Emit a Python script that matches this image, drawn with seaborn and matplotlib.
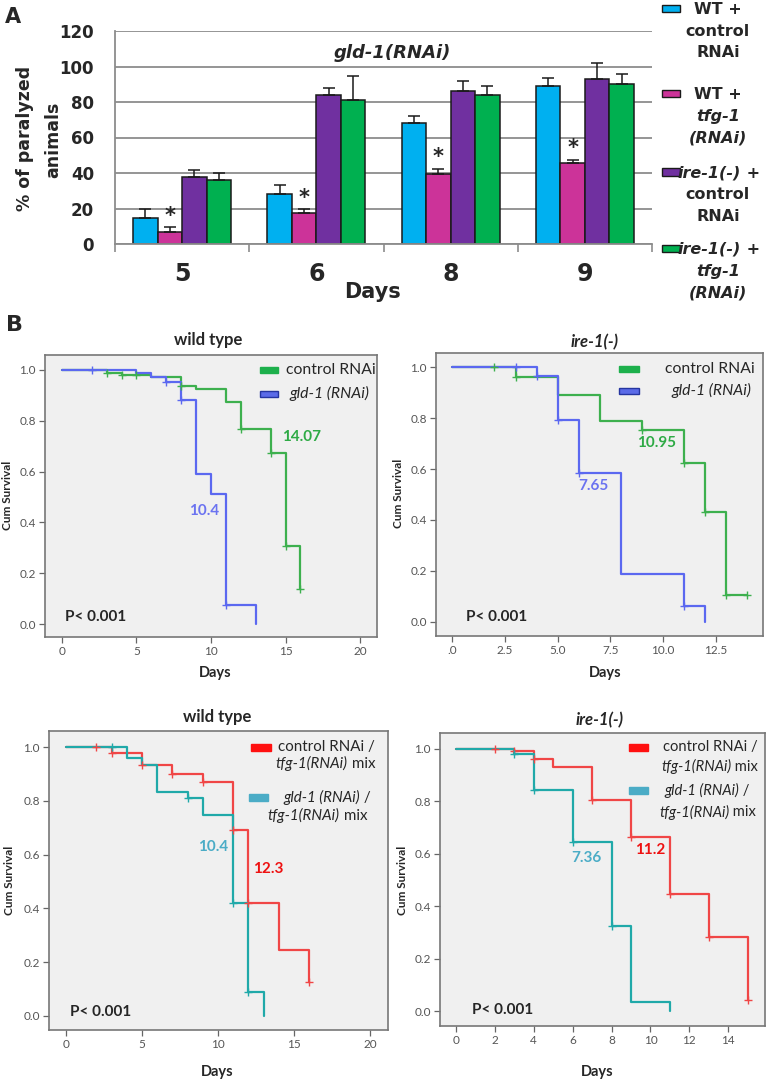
import numpy as np
import pandas as pd
import matplotlib
matplotlib.use("Agg")
import matplotlib.pyplot as plt
import seaborn as sns
from matplotlib.patches import Rectangle

W, H = 769, 1081

# ---- panel A: % paralyzed animals, gld-1(RNAi)
days = ["5", "6", "8", "9"]
groups = ["WT + control RNAi", "WT + tfg-1 (RNAi)",
          "ire-1(-) + control RNAi", "ire-1(-) + tfg-1 (RNAi)"]
wt_ctrl = [14.6, 28.2, 68.3, 89.2]
wt_ctrl_err = [4.9, 5.0, 4.0, 4.3]
wt_tfg = [6.6, 17.3, 39.4, 45.4]
wt_tfg_err = [2.8, 2.2, 2.9, 1.9]
ire_ctrl = [37.9, 83.9, 86.3, 93.2]
ire_ctrl_err = [3.8, 3.8, 5.7, 8.5]
ire_tfg = [36.0, 81.3, 83.9, 90.2]
ire_tfg_err = [4.0, 13.5, 5.3, 5.6]
bar_colors = ["#00B0F0", "#CC3399", "#7030A0", "#00B050"]

# ---- panel B: Kaplan-Meier curves (time, survival after step), censor marks
wt_ctrl_t = [0, 3, 4, 6, 8, 9, 11, 12, 14, 15, 16]
wt_ctrl_s = [1.0, 0.99, 0.98, 0.971, 0.936, 0.924, 0.875, 0.769, 0.673, 0.307, 0.136]
wt_ctrl_ct = [3, 4, 5, 8, 12, 14, 15, 16]
wt_ctrl_cs = [0.99, 0.98, 0.98, 0.936, 0.769, 0.673, 0.307, 0.136]
wt_gld_t = [0, 5, 6, 7, 8, 9, 10, 11, 13]
wt_gld_s = [1.0, 0.99, 0.971, 0.953, 0.881, 0.592, 0.511, 0.075, 0.0]
wt_gld_ct = [2, 7, 8, 11]
wt_gld_cs = [1.0, 0.953, 0.881, 0.075]

ire_ctrl_t = [0, 3, 5, 7, 9, 11, 12, 13, 14]
ire_ctrl_s = [1.0, 0.961, 0.890, 0.787, 0.753, 0.625, 0.432, 0.105, 0.105]
ire_ctrl_ct = [2, 3, 9, 11, 12, 13, 14]
ire_ctrl_cs = [1.0, 0.961, 0.753, 0.625, 0.432, 0.105, 0.105]
ire_gld_t = [0, 4, 5, 6, 8, 11, 12]
ire_gld_s = [1.0, 0.967, 0.792, 0.586, 0.186, 0.062, 0.0]
ire_gld_ct = [3, 4, 5, 6, 11]
ire_gld_cs = [1.0, 0.967, 0.792, 0.586, 0.062]

wt_mix_ctrl_t = [0, 3, 5, 7, 9, 11, 12, 14, 16]
wt_mix_ctrl_s = [1.0, 0.979, 0.935, 0.901, 0.870, 0.693, 0.418, 0.244, 0.124]
wt_mix_ctrl_ct = [2, 3, 5, 7, 9, 11, 12, 16]
wt_mix_ctrl_cs = [1.0, 0.979, 0.935, 0.901, 0.870, 0.693, 0.418, 0.124]
wt_mix_gld_t = [0, 4, 5, 6, 8, 9, 11, 12, 13]
wt_mix_gld_s = [1.0, 0.958, 0.935, 0.833, 0.811, 0.748, 0.42, 0.089, 0.0]
wt_mix_gld_ct = [3, 8, 11, 12]
wt_mix_gld_cs = [1.0, 0.811, 0.42, 0.089]

ire_mix_ctrl_t = [0, 3, 4, 5, 7, 9, 11, 13, 15]
ire_mix_ctrl_s = [1.0, 0.991, 0.962, 0.929, 0.805, 0.665, 0.446, 0.283, 0.042]
ire_mix_ctrl_ct = [2, 3, 4, 7, 9, 11, 13, 15]
ire_mix_ctrl_cs = [1.0, 0.991, 0.962, 0.805, 0.665, 0.446, 0.283, 0.042]
ire_mix_gld_t = [0, 3, 4, 6, 8, 9, 11]
ire_mix_gld_s = [1.0, 0.981, 0.844, 0.644, 0.324, 0.036, 0.0]
ire_mix_gld_ct = [3, 4, 6, 8]
ire_mix_gld_cs = [0.981, 0.844, 0.644, 0.324]

GREEN, BLUE, RED, TEAL = "#3DB04E", "#5B68F0", "#F04646", "#20A9A9"

sns.set_style("ticks")
plt.rcParams["font.family"] = ["Lato", "DejaVu Sans"]

fig = plt.figure(figsize=(W / 100, H / 100), dpi=100)


def px_axes(l, t, r, b):
    return fig.add_axes([l / W, 1 - b / H, (r - l) / W, (b - t) / H])


def fig_text(x, y, s, **kw):
    return fig.text(x / W, 1 - y / H, s, **kw)


# ================= Panel A =================
AF = "DejaVu Sans"
ax = px_axes(115, 31, 652, 244)
df_a = pd.DataFrame({
    "day": days * 4,
    "group": np.repeat(groups, len(days)),
    "pct": wt_ctrl + wt_tfg + ire_ctrl + ire_tfg,
})
sns.barplot(data=df_a, x="day", y="pct", hue="group", order=days, hue_order=groups,
            palette=bar_colors, saturation=1, width=0.73, edgecolor="#1a1a1a",
            linewidth=1.1, errorbar=None, legend=False, ax=ax, zorder=2)

errs = [wt_ctrl_err, wt_tfg_err, ire_ctrl_err, ire_tfg_err]
for cont, err in zip(ax.containers, errs):
    for bar, e in zip(cont, err):
        cx = bar.get_x() + bar.get_width() / 2
        ax.errorbar(cx, bar.get_height(), yerr=[[0], [e]], fmt="none", ecolor="#1a1a1a",
                    elinewidth=1.1, capsize=4, capthick=1.1, zorder=3)
for bar, e in zip(ax.containers[1], wt_tfg_err):
    cx = bar.get_x() + bar.get_width() / 2
    ax.text(cx, bar.get_height() + e + 1.0, "*", ha="center", va="bottom",
            fontsize=15, fontweight="bold", family=AF)

ax.set_ylim(0, 120)
ax.set_xlim(-0.5, len(days) - 0.5)
ax.set_yticks(range(0, 121, 20))
ax.yaxis.grid(True, color="#8c8c8c", lw=1.3)
ax.set_axisbelow(True)
for sp in ["top", "right"]:
    ax.spines[sp].set_visible(False)
for sp in ["left", "bottom"]:
    ax.spines[sp].set_color("#8c8c8c")
    ax.spines[sp].set_linewidth(1.3)
ax.set_xticks(np.arange(len(days) + 1) - 0.5, minor=True)
ax.tick_params(axis="x", which="major", length=0, pad=13)
ax.tick_params(axis="x", which="minor", length=6, width=1.2, color="#8c8c8c")
ax.tick_params(axis="y", length=0, pad=15)
for lab in ax.get_xticklabels():
    lab.set_fontsize(17)
    lab.set_fontweight("bold")
    lab.set_family(AF)
for lab in ax.get_yticklabels():
    lab.set_fontsize(12)
    lab.set_fontweight("bold")
    lab.set_family(AF)
ax.set_xlabel("")
ax.set_ylabel("")

fig_text(392, 53, "gld-1(RNAi)", ha="center", va="center", fontsize=13,
         fontweight="bold", style="italic", family=AF)
fig_text(372, 292, "Days", ha="center", va="center", fontsize=15, fontweight="bold", family=AF)
fig_text(25, 138, "% of paralyzed", ha="center", va="center", rotation=90,
         fontsize=12.5, fontweight="bold", family=AF)
fig_text(53, 140, "animals", ha="center", va="center", rotation=90,
         fontsize=12.5, fontweight="bold", family=AF)
fig_text(13, 17, "A", ha="center", va="center", fontsize=15, fontweight="bold", family=AF)
fig_text(14, 325, "B", ha="center", va="center", fontsize=16, fontweight="bold", family=AF)

# legend of panel A
leg_kw = dict(ha="center", va="center", fontsize=11.5, fontweight="bold", family=AF)
leg_rows = [
    (8.5, [("WT +", "normal"), ("control", "normal"), ("RNAi", "normal")]),
    (93.5, [("WT +", "normal"), ("tfg-1", "italic"), ("(RNAi)", "italic")]),
    (172, [(None, None), ("control", "normal"), ("RNAi", "normal")]),
    (248.5, [(None, None), ("tfg-1", "italic"), ("(RNAi)", "italic")]),
]
for (ysq, lines), col in zip(leg_rows, bar_colors):
    fig.patches.append(Rectangle((662 / W, 1 - (ysq + 3.8) / H), 18 / W, 7.5 / H,
                                 transform=fig.transFigure, facecolor=col,
                                 edgecolor="#1a1a1a", lw=1.0))
    for i, (s, st) in enumerate(lines):
        yy = ysq + 1 + i * 21.7
        if s is None:
            fig_text(741, yy, "ire-1(-)", **{**leg_kw, "ha": "right", "style": "italic"})
            fig_text(741, yy, " +", **{**leg_kw, "ha": "left"})
        else:
            fig_text(718, yy, s, style=st, **leg_kw)


# ================= Panel B =================
def mixed(ax, x, y, parts, fs):
    t = None
    for s, st in parts:
        if t is None:
            t = ax.text(x, y, s, transform=ax.transAxes, ha="left", va="center",
                        fontsize=fs, style=st)
        else:
            t = ax.annotate(s, xy=(1, 0.5), xycoords=t, ha="left", va="center",
                            fontsize=fs, style=st)


def km_panel(box, curves, xlim, ylim, xticks, xticklabels, title, title_style, title_xy,
             days_xy, ylab_xy, p_xy, medians, legend, leg_fs):
    ax = px_axes(*box)
    ax.set_facecolor("#F0F0F0")
    for t, s, ct, cs, col in curves:
        sns.lineplot(x=t, y=s, drawstyle="steps-post", color=col, lw=1.6,
                     estimator=None, sort=False, ax=ax)
        sns.scatterplot(x=ct, y=cs, marker="+", s=30, color=col, linewidth=1.0,
                        ax=ax, zorder=3)
    ax.set_xlim(*xlim)
    ax.set_ylim(*ylim)
    ax.set_xticks(xticks)
    ax.set_xticklabels(xticklabels)
    ax.set_yticks([0, 0.2, 0.4, 0.6, 0.8, 1.0])
    ax.set_yticklabels(["0.0", "0.2", "0.4", "0.6", "0.8", "1.0"])
    for sp in ax.spines.values():
        sp.set_color("#777777")
        sp.set_linewidth(1.2)
    ax.tick_params(direction="out", length=4, width=0.9, color="#666666",
                   labelsize=8.5, labelcolor="#555555", pad=2.5)
    ax.set_xlabel("")
    ax.set_ylabel("")
    fig_text(*title_xy, title, ha="center", va="center", fontsize=12,
             fontweight="bold", style=title_style)
    fig_text(*days_xy, "Days", ha="center", va="center", fontsize=10.5, fontweight="bold")
    fig_text(*ylab_xy, "Cum Survival", ha="center", va="center", rotation=90,
             fontsize=8.5, fontweight="bold")
    ax.text(*p_xy, "P< 0.001", ha="left", va="center", fontsize=11, fontweight="bold")
    for x, y, s, col in medians:
        ax.text(x, y, s, ha="center", va="center", fontsize=11, fontweight="bold", color=col)
    for x0, x1, y, fc, ec, rows in legend:
        ax.add_patch(Rectangle((x0, y - 0.011), x1 - x0, 0.022, transform=ax.transAxes,
                               facecolor=fc, edgecolor=ec, lw=1.0, clip_on=False))
        for tx, ty, parts in rows:
            mixed(ax, tx, ty, parts, leg_fs)
    return ax


km_panel((45, 355, 377, 637),
         [(wt_ctrl_t, wt_ctrl_s, wt_ctrl_ct, wt_ctrl_cs, GREEN),
          (wt_gld_t, wt_gld_s, wt_gld_ct, wt_gld_cs, BLUE)],
         (-1.14, 21.14), (-0.051, 1.059), [0, 5, 10, 15, 20], ["0", "5", "10", "15", "20"],
         "wild type", "normal", (208, 340), (215, 673), (8, 495), (0.2, 0.028),
         [(16.1, 0.735, "14.07", "#2EAA45"), (9.53, 0.446, "10.4", "#6B73F0")],
         [(0.648, 0.702, 0.947, "#1DB04C", "#1DB04C", [(0.726, 0.947, [("control RNAi", "normal")])]),
          (0.648, 0.702, 0.862, "#5B6BE8", "#2535A0", [(0.736, 0.862, [("gld-1 (RNAi)", "italic")])])],
         11.3)

km_panel((435.7, 352.7, 763, 635.7),
         [(ire_ctrl_t, ire_ctrl_s, ire_ctrl_ct, ire_ctrl_cs, GREEN),
          (ire_gld_t, ire_gld_s, ire_gld_ct, ire_gld_cs, BLUE)],
         (-0.79, 14.75), (-0.055, 1.057), [0, 2.5, 5, 7.5, 10, 12.5],
         [".0", "2.5", "5.0", "7.5", "10.0", "12.5"],
         "ire-1(-)", "italic", (595, 342), (605, 673), (398, 493), (0.64, 0.017),
         [(9.70, 0.704, "10.95", "#2EAA45"), (6.69, 0.535, "7.65", "#6B73F0")],
         [(0.56, 0.62, 0.942, "#1DB04C", "#1DB04C", [(0.70, 0.942, [("control RNAi", "normal")])]),
          (0.56, 0.62, 0.865, "#5B6BE8", "#2535A0", [(0.72, 0.865, [("gld-1 (RNAi)", "italic")])])],
         11.3)

km_panel((49, 731, 387.7, 1030),
         [(wt_mix_ctrl_t, wt_mix_ctrl_s, wt_mix_ctrl_ct, wt_mix_ctrl_cs, RED),
          (wt_mix_gld_t, wt_mix_gld_s, wt_mix_gld_ct, wt_mix_gld_cs, TEAL)],
         (-1.12, 21.16), (-0.053, 1.06), [0, 5, 10, 15, 20], ["0", "5", "10", "15", "20"],
         "wild type", "normal", (216.7, 716.7), (217, 1071.7), (10, 880), (0.26, 0.013),
         [(9.69, 0.629, "10.4", "#4BACC6"), (13.3, 0.545, "12.3", "#EE1111")],
         [(0.597, 0.655, 0.945, "#FF1010", "#FF1010",
           [(0.676, 0.945, [("control RNAi /", "normal")]),
            (0.670, 0.890, [("tfg-1(RNAi)", "italic"), (" mix", "normal")])]),
          (0.590, 0.647, 0.777, "#4BACC6", "#4BACC6",
           [(0.692, 0.777, [("gld-1 (RNAi)", "italic"), (" /", "normal")]),
            (0.646, 0.717, [("tfg-1(RNAi)", "italic"), (" mix", "normal")])])],
         10.9)

km_panel((440, 733.3, 765, 1025.7),
         [(ire_mix_ctrl_t, ire_mix_ctrl_s, ire_mix_ctrl_ct, ire_mix_ctrl_cs, RED),
          (ire_mix_gld_t, ire_mix_gld_s, ire_mix_gld_ct, ire_mix_gld_cs, TEAL)],
         (-0.82, 15.89), (-0.056, 1.059), list(range(0, 15, 2)),
         [str(v) for v in range(0, 15, 2)],
         "ire-1(-)", "italic", (600, 720), (597, 1071.7), (403, 880), (0.81, 0.002),
         [(6.72, 0.582, "7.36", "#4BACC6"), (9.97, 0.614, "11.2", "#EE1111")],
         [(0.58, 0.64, 0.952, "#FF1010", "#FF1010",
           [(0.685, 0.952, [("control RNAi /", "normal")]),
            (0.680, 0.886, [("tfg-1(RNAi)", "italic"), (" mix", "normal")])]),
          (0.58, 0.64, 0.804, "#4BACC6", "#4BACC6",
           [(0.690, 0.804, [("gld-1 (RNAi)", "italic"), (" /", "normal")]),
            (0.674, 0.730, [("tfg-1(RNAi)", "italic"), (" mix", "normal")])])],
         10.6)

fig.savefig("out.png", dpi=100, facecolor="white")
